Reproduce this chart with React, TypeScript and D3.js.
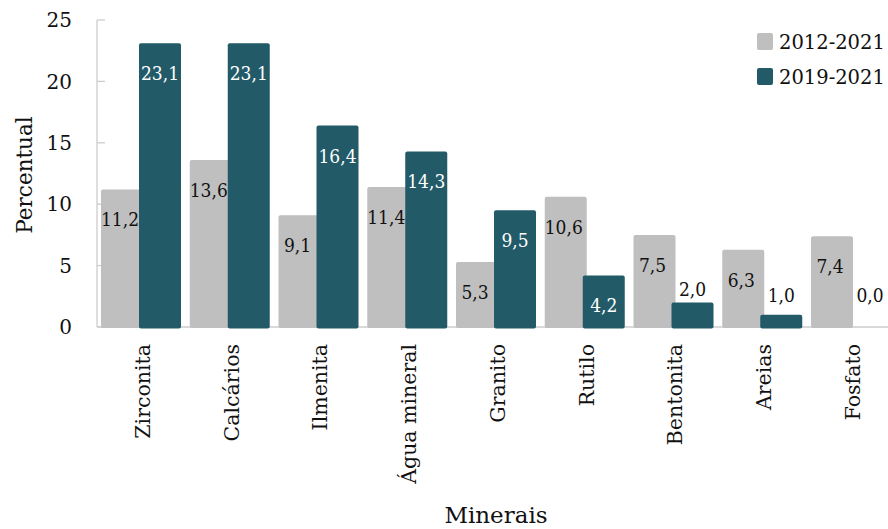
import React from "react";
import * as d3 from "d3";

const categories = ["Zirconita", "Calcários", "Ilmenita", "Água mineral", "Granito", "Rutilo", "Bentonita", "Areias", "Fosfato"];
const series2012 = [11.2, 13.6, 9.1, 11.4, 5.3, 10.6, 7.5, 6.3, 7.4];
const series2019 = [23.1, 23.1, 16.4, 14.3, 9.5, 4.2, 2.0, 1.0, 0.0];
const seriesNames = ["2012-2021", "2019-2021"];
const yTicks = [0, 5, 10, 15, 20, 25];

const W = 888;
const H = 529;
const GRAY = "#BFBFBF";
const TEAL = "#225A68";
const AXIS = "#CCCCCC";
const FONT = "DejaVu Serif";
const FONT_COND = "'DejaVu Serif Condensed', 'DejaVu Serif'";

const fmt = (v: number) => v.toFixed(1).replace(".", ",");

export default function App() {
  const x = d3.scaleBand<string>().domain(categories).range([97, 895.75]).padding(0);
  const y = d3.scaleLinear().domain([0, 25]).range([327, 20]);
  const bw = 42;
  const y0 = y(0);

  return (
    <svg width={W} height={H} style={{ position: "absolute", left: 0, top: 0, background: "#fff", fontFamily: FONT }}>
      {/* y axis */}
      <line x1={97} x2={97} y1={y(25)} y2={y0} stroke={AXIS} strokeWidth={1.3} />
      {yTicks.map((t) => (
        <g key={t}>
          <line x1={97} x2={105} y1={y(t)} y2={y(t)} stroke={AXIS} strokeWidth={1.3} />
          <text x={72} y={y(t)} dy="0.36em" textAnchor="end" fontSize={20} fill="#111">
            {t}
          </text>
        </g>
      ))}
      {/* x axis line */}
      <line x1={97} x2={W} y1={y0} y2={y0} stroke={AXIS} strokeWidth={1.3} />

      {/* bars */}
      {categories.map((c, i) => {
        const bx = x(c)!;
        const v1 = series2012[i];
        const v2 = series2019[i];
        const t1 = y(v1);
        const t2 = y(v2);
        const gx = bx + 4;
        const dx = bx + 42;
        const small = v2 < 3;
        const l2y = small ? Math.min(t2 - 6, 302) : t2 + 37;
        return (
          <g key={c}>
            <rect x={gx} y={t1} width={bw} height={y0 - t1 + 1} fill={GRAY} rx={2} />
            {v2 > 0 && <rect x={dx} y={t2} width={bw} height={y0 - t2 + 1.5} fill={TEAL} rx={2} />}
            <text x={gx + 19} y={t1 + 37} textAnchor="middle" fontSize={19} style={{ fontFamily: FONT_COND }} fill="#111">
              {fmt(v1)}
            </text>
            <text x={dx + 21} y={l2y} textAnchor="middle" fontSize={19} style={{ fontFamily: FONT_COND }} fill={small ? "#111" : "#fff"}>
              {fmt(v2)}
            </text>
            <text
              transform={`translate(${bx + x.bandwidth() / 2 + 1},344) rotate(-90)`}
              textAnchor="end"
              dy="0.36em"
              fontSize={20.5}
              fill="#111"
            >
              {c}
            </text>
          </g>
        );
      })}

      {/* axis titles */}
      <text transform={`translate(24,175) rotate(-90)`} textAnchor="middle" dy="0.36em" fontSize={21.5} fill="#111">
        Percentual
      </text>
      <text x={496} y={523} textAnchor="middle" fontSize={23} fill="#111">
        Minerais
      </text>

      {/* legend */}
      {seriesNames.map((s, i) => (
        <g key={s} transform={`translate(757,${33 + i * 35})`}>
          <rect x={0} y={0} width={16} height={17} rx={2} fill={i === 0 ? GRAY : TEAL} />
          <text x={22} y={8.5} dy="0.36em" fontSize={19.5} fill="#111">
            {s}
          </text>
        </g>
      ))}
    </svg>
  );
}
